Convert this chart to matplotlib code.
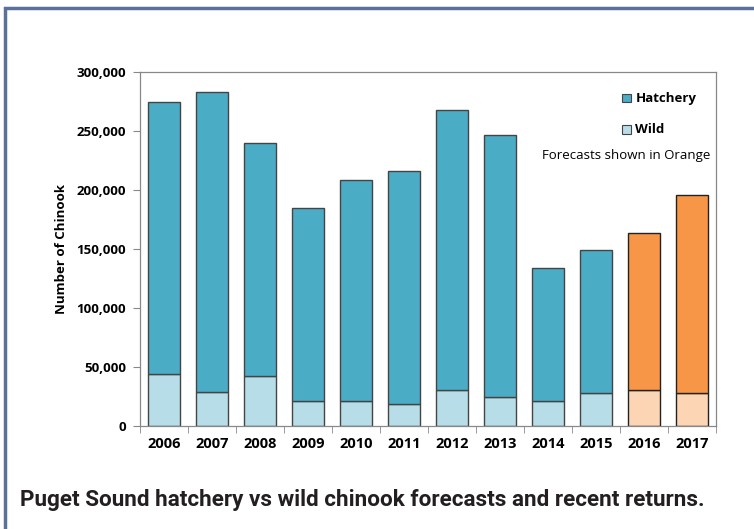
import matplotlib.pyplot as plt
from matplotlib.patches import Rectangle
from matplotlib.ticker import FuncFormatter
import numpy as np

''' Data '''
years = ['2006', '2007', '2008', '2009', '2010', '2011',
         '2012', '2013', '2014', '2015', '2016', '2017']
total = [275000, 283000, 239500, 184500, 208500, 216500,
         267500, 246500, 134000, 149000, 163500, 196000]
wild = [44000, 29000, 42500, 21500, 21000, 18500,
        30500, 24500, 21000, 28000, 30500, 28000]
forecast = [False] * 10 + [True, True]

hatchery = [t - w for t, w in zip(total, wild)]

hatch_col = '#4BACC6'
wild_col = '#B7DEE8'
fc_dark = '#F79646'
fc_light = '#FCD5B5'

plt.rcParams['font.family'] = ['Open Sans', 'DejaVu Sans']

fig = plt.figure(figsize=(7.54, 5.29), dpi=100)
ax = fig.add_axes([140 / 754, 1 - 426 / 529, 576 / 754, 354 / 529])

x = np.arange(len(years))
w_cols = [fc_light if f else wild_col for f in forecast]
h_cols = [fc_dark if f else hatch_col for f in forecast]
edges = ['#222222' if f else '#444444' for f in forecast]

ax.bar(x, wild, width=0.68, color=w_cols, edgecolor=edges, linewidth=1.0)
ax.bar(x, hatchery, bottom=wild, width=0.68, color=h_cols, edgecolor=edges, linewidth=1.0)

ax.set_xlim(-0.5, len(years) - 0.5)
ax.set_ylim(0, 300000)
ax.set_yticks(np.arange(0, 300001, 50000))
ax.yaxis.set_major_formatter(FuncFormatter(lambda v, p: f'{int(v):,}'))
ax.set_xticks(x)
ax.set_xticklabels(years)
ax.set_xticks(np.arange(-0.5, len(years), 1), minor=True)
ax.tick_params(axis='x', which='major', length=0, pad=8)
ax.tick_params(axis='x', which='minor', length=5, color='#888888', direction='out')
ax.tick_params(axis='y', length=5, color='#888888', direction='out', pad=5)
for lab in ax.get_xticklabels():
    lab.set_fontweight('bold')
    lab.set_fontsize(10.5)
for lab in ax.get_yticklabels():
    lab.set_fontweight('bold')
    lab.set_fontsize(9.5)
for s in ax.spines.values():
    s.set_color('#888888')
    s.set_linewidth(0.9)

ax.set_ylabel('Number of Chinook', fontsize=9.5, fontweight='bold', labelpad=6)

# Legende
ax.add_patch(Rectangle((0.837, 0.914), 0.016, 0.025, transform=ax.transAxes,
                       facecolor=hatch_col, edgecolor='#444444', linewidth=0.8))
ax.text(0.86, 0.926, 'Hatchery', transform=ax.transAxes, fontsize=9.5,
        fontweight='bold', va='center')
ax.add_patch(Rectangle((0.837, 0.826), 0.016, 0.025, transform=ax.transAxes,
                       facecolor=wild_col, edgecolor='#444444', linewidth=0.8))
ax.text(0.86, 0.838, 'Wild', transform=ax.transAxes, fontsize=9.5,
        fontweight='bold', va='center')
ax.text(0.99, 0.764, 'Forecasts shown in Orange', transform=ax.transAxes,
        fontsize=9.5, ha='right', va='center')

# Okvir
fig.patches.append(Rectangle((5 / 754, -0.05), 1.1, 1 - 8 / 529 + 0.05,
                             transform=fig.transFigure, fill=False,
                             edgecolor='#5A7199', linewidth=2.5))

fig.text(20 / 754, 1 - 500 / 529,
         'Puget Sound hatchery vs wild chinook forecasts and recent returns.',
         fontsize=16.2, fontweight='bold', va='center', color='#231F20',
         family=['Roboto', 'DejaVu Sans'])

plt.savefig('out.png', dpi=100)
